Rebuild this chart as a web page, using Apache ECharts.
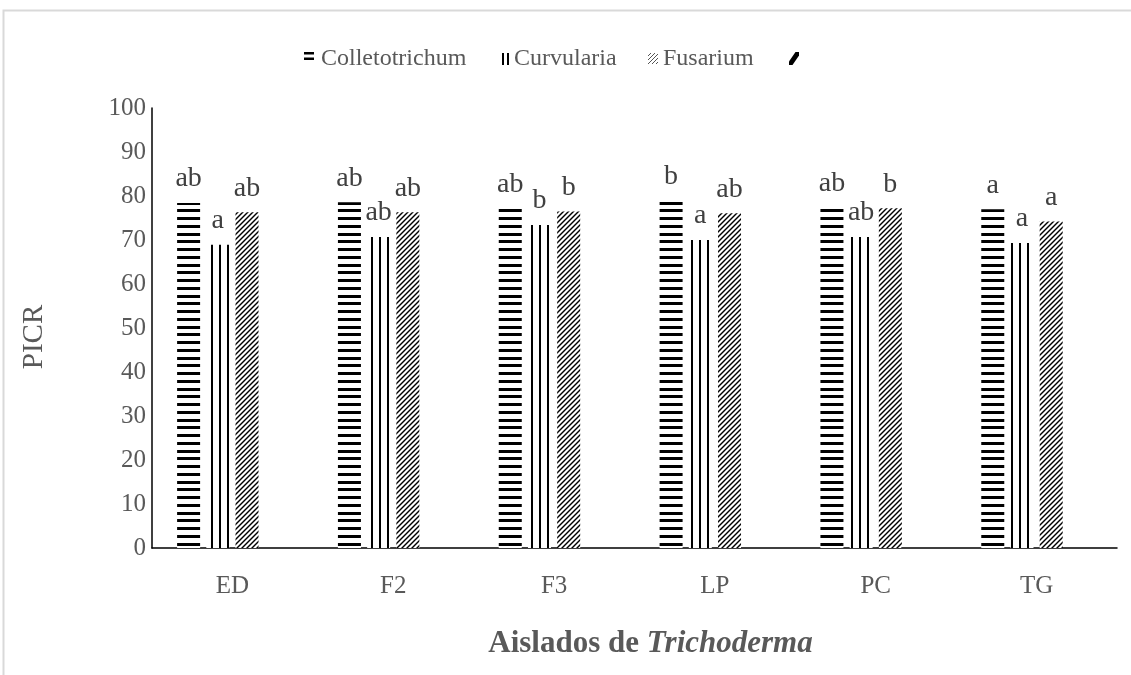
<!DOCTYPE html>
<html>
<head>
<meta charset="utf-8">
<script src="https://cdn.jsdelivr.net/npm/echarts@6/dist/echarts.min.js"></script>
<style>
html,body{margin:0;padding:0;background:#fff;}
#c{width:1131px;height:675px;}
</style>
</head>
<body>
<div id="c"></div>
<script>
// ---- data ----
const categories = ['ED', 'F2', 'F3', 'LP', 'PC', 'TG'];
const seriesNames = ['Colletotrichum', 'Curvularia', 'Fusarium'];
const colletotrichum = [78.4, 78.6, 77.1, 79.0, 77.3, 77.0];
const curvularia = [68.9, 70.7, 73.4, 70.0, 70.7, 69.3];
const fusarium = [76.3, 76.3, 76.5, 76.1, 77.2, 74.2];
const colletotrichumLetters = ['ab', 'ab', 'ab', 'b', 'ab', 'a'];
const curvulariaLetters = ['a', 'ab', 'b', 'a', 'ab', 'a'];
const fusariumLetters = ['ab', 'ab', 'b', 'ab', 'b', 'a'];
const yTicks = [0, 10, 20, 30, 40, 50, 60, 70, 80, 90, 100];

// ---- patterns ----
function makeCanvas(w, h, draw) {
  const c = document.createElement('canvas');
  c.width = w; c.height = h;
  const ctx = c.getContext('2d');
  ctx.fillStyle = '#fff';
  ctx.fillRect(0, 0, w, h);
  draw(ctx);
  return c;
}
const hPattern = makeCanvas(4, 31, ctx => {
  ctx.fillStyle = '#000';
  [0, 8, 16, 23].forEach(y => ctx.fillRect(0, y, 4, 3));
});
const vPattern = makeCanvas(8, 4, ctx => {
  ctx.fillStyle = '#000';
  ctx.fillRect(3, 0, 2, 4);
});
const dPattern = makeCanvas(5, 5, ctx => {
  ctx.strokeStyle = '#000';
  ctx.lineWidth = 1.4;
  ctx.beginPath();
  ctx.moveTo(-1, 6); ctx.lineTo(6, -1);
  ctx.stroke();
  ctx.beginPath();
  ctx.moveTo(-1, 1); ctx.lineTo(1, -1);
  ctx.moveTo(4, 6); ctx.lineTo(6, 4);
  ctx.stroke();
});
const dPatternLight = makeCanvas(4, 4, ctx => {
  ctx.strokeStyle = '#555';
  ctx.lineWidth = 1;
  ctx.beginPath();
  ctx.moveTo(0, 4); ctx.lineTo(4, 0);
  ctx.stroke();
});

const FONT = 'Liberation Serif';
const legendFont = { font: '24px "Liberation Serif", "Times New Roman", serif', fill: '#595959', verticalAlign: 'middle', align: 'left' };

function barSeries(name, values, letters, pattern) {
  return {
    name: name,
    type: 'bar',
    barWidth: 23,
    barGap: '27%',
    data: values,
    itemStyle: { color: { image: pattern, repeat: 'repeat' } },
    label: {
      show: true,
      position: 'top',
      distance: 10,
      fontFamily: FONT,
      fontSize: 28,
      color: '#404040',
      formatter: p => letters[p.dataIndex]
    }
  };
}

// legend drawn as graphic (icons + real text)
const legendGraphic = {
  type: 'group',
  silent: true,
  children: [
    { type: 'rect', shape: { x: 304, y: 52, width: 10, height: 2.5 }, style: { fill: '#000' } },
    { type: 'rect', shape: { x: 304, y: 57.5, width: 10, height: 2.5 }, style: { fill: '#000' } },
    { type: 'text', x: 321, y: 59, style: Object.assign({ text: seriesNames[0] }, legendFont) },
    { type: 'rect', shape: { x: 502, y: 53, width: 2, height: 12 }, style: { fill: '#000' } },
    { type: 'rect', shape: { x: 507, y: 53, width: 2, height: 12 }, style: { fill: '#000' } },
    { type: 'text', x: 514, y: 59, style: Object.assign({ text: seriesNames[1] }, legendFont) },
    { type: 'rect', shape: { x: 648, y: 53, width: 10, height: 11 }, style: { fill: { image: dPatternLight, repeat: 'repeat' } } },
    { type: 'text', x: 663, y: 59, style: Object.assign({ text: seriesNames[2] }, legendFont) },
    { type: 'polygon', shape: { points: [[789, 65], [792.5, 65], [799, 55.5], [799, 52], [795.5, 52], [789, 61.5]] }, style: { fill: '#000' } }
  ]
};

const chart = echarts.init(document.getElementById('c'));
chart.setOption({
  animation: false,
  backgroundColor: '#fff',
  textStyle: { fontFamily: FONT },
  graphic: [{
    type: 'rect',
    shape: { x: 3.5, y: 10.5, width: 1200, height: 800 },
    style: { fill: 'none', stroke: '#d9d9d9', lineWidth: 2 },
    silent: true
  }, legendGraphic],
  grid: { left: 152, right: 14, top: 108, bottom: 127 },
  xAxis: {
    type: 'category',
    data: categories,
    axisLine: { lineStyle: { color: '#000', width: 1.5 } },
    axisTick: { show: false },
    axisLabel: { fontFamily: FONT, fontSize: 25, color: '#595959', margin: 26 },
    name: '{n|Aislados de }{i|Trichoderma}',
    nameLocation: 'middle',
    nameGap: 80,
    nameTextStyle: {
      padding: [0, 0, 0, 32],
      rich: {
        n: { fontFamily: FONT, fontSize: 31, fontWeight: 'bold', color: '#595959' },
        i: { fontFamily: FONT, fontSize: 31, fontWeight: 'bold', fontStyle: 'italic', color: '#595959' }
      }
    }
  },
  yAxis: {
    type: 'value',
    min: yTicks[0],
    max: yTicks[yTicks.length - 1],
    interval: yTicks[1] - yTicks[0],
    axisLine: { show: true, lineStyle: { color: '#000', width: 1.5 } },
    axisTick: { show: false },
    splitLine: { show: false },
    axisLabel: { fontFamily: FONT, fontSize: 25, color: '#595959', margin: 6 },
    name: 'PICR',
    nameLocation: 'middle',
    nameGap: 103,
    nameTextStyle: { fontFamily: FONT, fontSize: 29, color: '#595959', padding: [0, 18, 0, 0] }
  },
  series: [
    barSeries(seriesNames[0], colletotrichum, colletotrichumLetters, hPattern),
    barSeries(seriesNames[1], curvularia, curvulariaLetters, vPattern),
    barSeries(seriesNames[2], fusarium, fusariumLetters, dPattern),
    { name: '\u00a0', type: 'bar', barWidth: 23, barGap: '27%', data: categories.map(() => null), itemStyle: { color: '#000' } }
  ]
});
</script>
</body>
</html>
